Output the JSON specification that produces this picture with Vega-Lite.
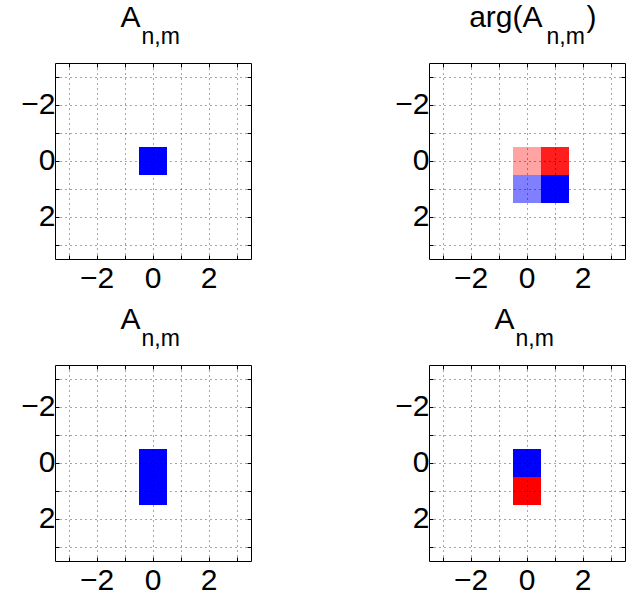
{
  "$schema": "https://vega.github.io/schema/vega-lite/v6.json",
  "background": "white",
  "padding": {"left": 20, "top": 1, "right": 0, "bottom": 0},
  "data": {"values": [
    {"panel": 1, "n": 0, "m": 0, "val": 1},
    {"panel": 2, "n": 0, "m": 0, "val": -0.4},
    {"panel": 2, "n": 1, "m": 0, "val": -0.9},
    {"panel": 2, "n": 0, "m": 1, "val": 0.5},
    {"panel": 2, "n": 1, "m": 1, "val": 1},
    {"panel": 3, "n": 0, "m": 0, "val": 1},
    {"panel": 3, "n": 0, "m": 1, "val": 1},
    {"panel": 4, "n": 0, "m": 0, "val": 1},
    {"panel": 4, "n": 0, "m": 1, "val": -1}
  ]},
  "columns": 2,
  "spacing": {"row": 106, "column": 178},
  "bounds": "flush",
  "concat": [
    {
      "width": 196, "height": 196,
      "transform": [{"filter": "datum.panel == 1"}],
      "layer": [
        {"mark": {"type": "rect"},
         "encoding": {
           "x": {"field": "n", "type": "ordinal", "scale": {"domain": [-3,-2,-1,0,1,2,3], "paddingInner": 0, "paddingOuter": 0},
                 "axis": {"orient": "bottom", "title": null, "grid": true, "bandPosition": 0.5, "labelExpr": "datum.value % 2 == 0 ? replace(datum.label, '-', '−') : ''", "labelAngle": 0, "labelPadding": 8, "labelOverlap": false, "zindex": 1}},
           "y": {"field": "m", "type": "ordinal", "scale": {"domain": [-3,-2,-1,0,1,2,3], "paddingInner": 0, "paddingOuter": 0},
                 "axis": {"orient": "left", "title": null, "grid": true, "bandPosition": 0.5, "labelExpr": "datum.value % 2 == 0 ? replace(datum.label, '-', '−') : ''", "labelPadding": 4, "labelOverlap": false, "zindex": 1}},
           "color": {"field": "val", "type": "ordinal", "scale": {"domain": [-1, -0.9, -0.4, 0.5, 1], "range": ["#FF0000", "#FF1E1E", "#FFA3A3", "#7F7FFF", "#0000FF"]}, "legend": null}
         }},
        {"mark": {"type": "rect", "opacity": 0},
         "encoding": {
           "x": {"field": "n", "type": "ordinal", "axis": {"orient": "top", "labels": false, "grid": false, "bandPosition": 0.5, "zindex": 1, "title": "n,m", "titleX": 86, "titleY": -20, "titleAlign": "left", "titleBaseline": "alphabetic", "titleFontSize": 23}},
           "y": {"field": "m", "type": "ordinal", "axis": {"orient": "right", "labels": false, "grid": false, "bandPosition": 0.5, "zindex": 1, "title": "A", "titleX": -131, "titleY": -37, "titleAngle": 0, "titleAlign": "left", "titleBaseline": "alphabetic", "titleFontSize": 30}}
         }}
      ],
      "resolve": {"axis": {"x": "independent", "y": "independent"}}
    },
    {
      "width": 196, "height": 196,
      "transform": [{"filter": "datum.panel == 2"}],
      "layer": [
        {"mark": {"type": "rect"},
         "encoding": {
           "x": {"field": "n", "type": "ordinal", "scale": {"domain": [-3,-2,-1,0,1,2,3], "paddingInner": 0, "paddingOuter": 0},
                 "axis": {"orient": "bottom", "title": null, "grid": true, "bandPosition": 0.5, "labelExpr": "datum.value % 2 == 0 ? replace(datum.label, '-', '−') : ''", "labelAngle": 0, "labelPadding": 8, "labelOverlap": false, "zindex": 1}},
           "y": {"field": "m", "type": "ordinal", "scale": {"domain": [-3,-2,-1,0,1,2,3], "paddingInner": 0, "paddingOuter": 0},
                 "axis": {"orient": "left", "grid": true, "bandPosition": 0.5, "labelExpr": "datum.value % 2 == 0 ? replace(datum.label, '-', '−') : ''", "labelPadding": 4, "labelOverlap": false, "zindex": 1, "title": ")", "titleX": 157, "titleY": -37, "titleAngle": 0, "titleAlign": "left", "titleBaseline": "alphabetic", "titleFontSize": 30}},
           "color": {"field": "val", "type": "ordinal", "scale": {"domain": [-1, -0.9, -0.4, 0.5, 1], "range": ["#FF0000", "#FF1E1E", "#FFA3A3", "#7F7FFF", "#0000FF"]}, "legend": null}
         }},
        {"mark": {"type": "rect", "opacity": 0},
         "encoding": {
           "x": {"field": "n", "type": "ordinal", "axis": {"orient": "top", "labels": false, "grid": false, "bandPosition": 0.5, "zindex": 1, "title": "n,m", "titleX": 117, "titleY": -20, "titleAlign": "left", "titleBaseline": "alphabetic", "titleFontSize": 23}},
           "y": {"field": "m", "type": "ordinal", "axis": {"orient": "right", "labels": false, "grid": false, "bandPosition": 0.5, "zindex": 1, "title": "arg(A", "titleX": -83, "titleY": -37, "titleAngle": 0, "titleAlign": "right", "titleBaseline": "alphabetic", "titleFontSize": 30}}
         }}
      ],
      "resolve": {"axis": {"x": "independent", "y": "independent"}}
    },
    {
      "width": 196, "height": 196,
      "transform": [{"filter": "datum.panel == 3"}],
      "layer": [
        {"mark": {"type": "rect"},
         "encoding": {
           "x": {"field": "n", "type": "ordinal", "scale": {"domain": [-3,-2,-1,0,1,2,3], "paddingInner": 0, "paddingOuter": 0},
                 "axis": {"orient": "bottom", "title": null, "grid": true, "bandPosition": 0.5, "labelExpr": "datum.value % 2 == 0 ? replace(datum.label, '-', '−') : ''", "labelAngle": 0, "labelPadding": 8, "labelOverlap": false, "zindex": 1}},
           "y": {"field": "m", "type": "ordinal", "scale": {"domain": [-3,-2,-1,0,1,2,3], "paddingInner": 0, "paddingOuter": 0},
                 "axis": {"orient": "left", "title": null, "grid": true, "bandPosition": 0.5, "labelExpr": "datum.value % 2 == 0 ? replace(datum.label, '-', '−') : ''", "labelPadding": 4, "labelOverlap": false, "zindex": 1}},
           "color": {"field": "val", "type": "ordinal", "scale": {"domain": [-1, -0.9, -0.4, 0.5, 1], "range": ["#FF0000", "#FF1E1E", "#FFA3A3", "#7F7FFF", "#0000FF"]}, "legend": null}
         }},
        {"mark": {"type": "rect", "opacity": 0},
         "encoding": {
           "x": {"field": "n", "type": "ordinal", "axis": {"orient": "top", "labels": false, "grid": false, "bandPosition": 0.5, "zindex": 1, "title": "n,m", "titleX": 86, "titleY": -20, "titleAlign": "left", "titleBaseline": "alphabetic", "titleFontSize": 23}},
           "y": {"field": "m", "type": "ordinal", "axis": {"orient": "right", "labels": false, "grid": false, "bandPosition": 0.5, "zindex": 1, "title": "A", "titleX": -131, "titleY": -37, "titleAngle": 0, "titleAlign": "left", "titleBaseline": "alphabetic", "titleFontSize": 30}}
         }}
      ],
      "resolve": {"axis": {"x": "independent", "y": "independent"}}
    },
    {
      "width": 196, "height": 196,
      "transform": [{"filter": "datum.panel == 4"}],
      "layer": [
        {"mark": {"type": "rect"},
         "encoding": {
           "x": {"field": "n", "type": "ordinal", "scale": {"domain": [-3,-2,-1,0,1,2,3], "paddingInner": 0, "paddingOuter": 0},
                 "axis": {"orient": "bottom", "title": null, "grid": true, "bandPosition": 0.5, "labelExpr": "datum.value % 2 == 0 ? replace(datum.label, '-', '−') : ''", "labelAngle": 0, "labelPadding": 8, "labelOverlap": false, "zindex": 1}},
           "y": {"field": "m", "type": "ordinal", "scale": {"domain": [-3,-2,-1,0,1,2,3], "paddingInner": 0, "paddingOuter": 0},
                 "axis": {"orient": "left", "title": null, "grid": true, "bandPosition": 0.5, "labelExpr": "datum.value % 2 == 0 ? replace(datum.label, '-', '−') : ''", "labelPadding": 4, "labelOverlap": false, "zindex": 1}},
           "color": {"field": "val", "type": "ordinal", "scale": {"domain": [-1, -0.9, -0.4, 0.5, 1], "range": ["#FF0000", "#FF1E1E", "#FFA3A3", "#7F7FFF", "#0000FF"]}, "legend": null}
         }},
        {"mark": {"type": "rect", "opacity": 0},
         "encoding": {
           "x": {"field": "n", "type": "ordinal", "axis": {"orient": "top", "labels": false, "grid": false, "bandPosition": 0.5, "zindex": 1, "title": "n,m", "titleX": 86, "titleY": -20, "titleAlign": "left", "titleBaseline": "alphabetic", "titleFontSize": 23}},
           "y": {"field": "m", "type": "ordinal", "axis": {"orient": "right", "labels": false, "grid": false, "bandPosition": 0.5, "zindex": 1, "title": "A", "titleX": -131, "titleY": -37, "titleAngle": 0, "titleAlign": "left", "titleBaseline": "alphabetic", "titleFontSize": 30}}
         }}
      ],
      "resolve": {"axis": {"x": "independent", "y": "independent"}}
    }
  ],
  "config": {
    "font": "Liberation Sans",
    "view": {"stroke": "#000000", "strokeWidth": 1},
    "axis": {
      "domain": false,
      "labelFont": "Liberation Sans",
      "labelFontSize": 30,
      "labelColor": "#000000",
      "ticks": true,
      "tickColor": "#000000",
      "tickSize": -4,
      "tickWidth": 1,
      "gridColor": "#000000",
      "gridOpacity": 0.7,
      "gridDash": [1, 4],
      "gridWidth": 1,
      "titleFont": "Liberation Sans",
      "titleFontWeight": "normal",
      "titleColor": "#000000"
    }
  }
}
